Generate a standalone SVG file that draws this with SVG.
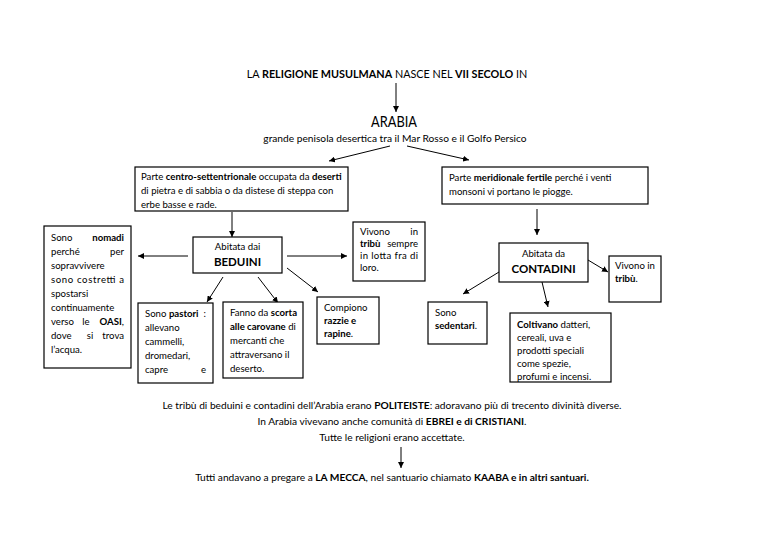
<svg xmlns="http://www.w3.org/2000/svg" width="768" height="543" viewBox="0 0 768 543">
<style>
text{font-family:Lato,"Open Sans","DejaVu Sans",sans-serif;fill:#000}
.t{font-size:9.6px}
.b{font-weight:bold}
.h{font-size:11.5px;font-weight:bold}
.f{font-size:10.2px}
.box{fill:#fff;stroke:#000;stroke-width:1.2}
.ln{stroke:#000;stroke-width:1;fill:none;marker-end:url(#ah)}
.mid{text-anchor:middle}
.end{text-anchor:end}
</style>
<defs>
<marker id="ah" viewBox="0 0 10 10" refX="10" refY="5" markerWidth="6" markerHeight="6" orient="auto" markerUnits="userSpaceOnUse">
<path d="M0,0 L10,5 L0,10 z" fill="#000"/>
</marker>
</defs>
<rect width="768" height="543" fill="#fff"/>

<g id="title">
<text x="387" y="78" class="mid" font-size="10.8">LA <tspan class="b">RELIGIONE MUSULMANA</tspan> NASCE NEL <tspan class="b">VII SECOLO</tspan> IN</text>
</g>
<g id="arabia">
<text x="394" y="127" class="mid" font-size="14.5" textLength="46" lengthAdjust="spacingAndGlyphs">ARABIA</text>
<text x="395" y="142" class="mid f">grande penisola desertica tra il Mar Rosso e il Golfo Persico</text>
</g>

<g id="connectors">
<line class="ln" x1="396" y1="83" x2="396" y2="112"/>
<line class="ln" x1="390" y1="146" x2="329" y2="161"/>
<line class="ln" x1="407" y1="146" x2="469" y2="160"/>
<line class="ln" x1="232" y1="212" x2="232" y2="237"/>
<line class="ln" x1="537" y1="209" x2="537" y2="235"/>
<line class="ln" x1="188" y1="256" x2="138" y2="256"/>
<line class="ln" x1="287" y1="256" x2="347" y2="256"/>
<line class="ln" x1="287" y1="268" x2="318" y2="292"/>
<line class="ln" x1="223" y1="277" x2="207" y2="302"/>
<line class="ln" x1="258" y1="277" x2="278" y2="303"/>
<line class="ln" x1="499" y1="272" x2="463" y2="294"/>
<line class="ln" x1="542" y1="282" x2="548" y2="307"/>
<line class="ln" x1="588" y1="260" x2="608" y2="272"/>
<line class="ln" x1="401" y1="447" x2="401" y2="468"/>
</g>

<g id="centro">
<rect class="box" x="135" y="167" width="213" height="44"/>
<text class="t" x="141" y="180">Parte <tspan class="b">centro-settentrionale</tspan> occupata da <tspan class="b">deserti</tspan></text>
<text class="t" x="141" y="194">di pietra e di sabbia o da distese di steppa con</text>
<text class="t" x="141" y="208">erbe basse e rade.</text>
</g>

<g id="meridionale">
<rect class="box" x="442" y="167" width="206" height="37"/>
<text class="t" x="449" y="181">Parte <tspan class="b">meridionale fertile</tspan> perché i venti</text>
<text class="t" x="449" y="195">monsoni vi portano le piogge.</text>
</g>

<g id="beduini">
<rect class="box" x="193" y="237" width="89" height="36"/>
<text class="t mid" x="237.5" y="250">Abitata dai</text>
<text class="h mid" x="237.5" y="266">BEDUINI</text>
</g>

<g id="contadini">
<rect class="box" x="499" y="243" width="89" height="39"/>
<text class="t mid" x="543.5" y="257">Abitata da</text>
<text class="h mid" x="543.5" y="273">CONTADINI</text>
</g>

<g id="nomadi">
<rect class="box" x="44" y="226" width="87" height="142"/>
<text class="t" x="51" y="241">Sono</text><text class="t b end" x="124" y="241">nomadi</text>
<text class="t" x="51" y="255">perché</text><text class="t end" x="124" y="255">per</text>
<text class="t" x="51" y="269">sopravvivere</text>
<text class="t" x="51" y="283" textLength="73" lengthAdjust="spacing">sono costretti a</text>
<text class="t" x="51" y="297">spostarsi</text>
<text class="t" x="51" y="311">continuamente</text>
<text class="t" x="51" y="325">verso</text><text class="t mid" x="86" y="325">le</text><text class="t end" x="124" y="325"><tspan class="b">OASI</tspan>,</text>
<text class="t" x="51" y="339">dove</text><text class="t mid" x="90" y="339">si</text><text class="t end" x="124" y="339">trova</text>
<text class="t" x="51" y="353">l’acqua.</text>
</g>

<g id="pastori">
<rect class="box" x="138" y="303" width="75" height="80"/>
<text class="t" x="145" y="317">Sono <tspan class="b">pastori</tspan></text><text class="t end" x="206" y="317">:</text>
<text class="t" x="145" y="331">allevano</text>
<text class="t" x="145" y="345">cammelli,</text>
<text class="t" x="145" y="359">dromedari,</text>
<text class="t" x="145" y="373">capre</text><text class="t end" x="206" y="373">e</text>
</g>

<g id="scorta">
<rect class="box" x="223" y="302" width="80" height="76"/>
<text class="t" x="230" y="316">Fanno da <tspan class="b">scorta</tspan></text>
<text class="t" x="230" y="330"><tspan class="b">alle carovane</tspan> di</text>
<text class="t" x="230" y="344">mercanti che</text>
<text class="t" x="230" y="358">attraversano il</text>
<text class="t" x="230" y="372">deserto.</text>
</g>

<g id="razzie">
<rect class="box" x="317" y="297" width="62" height="47"/>
<text class="t" x="324" y="311">Compiono</text>
<text class="t b" x="324" y="324">razzie e</text>
<text class="t" x="324" y="337"><tspan class="b">rapine</tspan>.</text>
</g>

<g id="lotta">
<rect class="box" x="353" y="222" width="72" height="59"/>
<text class="t" x="360" y="235">Vivono</text><text class="t end" x="418" y="235">in</text>
<text class="t b" x="360" y="247">tribù</text><text class="t end" x="418" y="247">sempre</text>
<text class="t" x="360" y="259" textLength="58" lengthAdjust="spacing">in lotta fra di</text>
<text class="t" x="360" y="271">loro.</text>
</g>

<g id="sedentari">
<rect class="box" x="428" y="302" width="59" height="42"/>
<text class="t" x="435" y="316">Sono</text>
<text class="t" x="435" y="329"><tspan class="b">sedentari</tspan>.</text>
</g>

<g id="coltivano">
<rect class="box" x="510" y="313" width="101" height="69"/>
<text class="t" x="517" y="328"><tspan class="b">Coltivano</tspan> datteri,</text>
<text class="t" x="517" y="341">cereali, uva e</text>
<text class="t" x="517" y="354">prodotti speciali</text>
<text class="t" x="517" y="367">come spezie,</text>
<text class="t" x="517" y="380">profumi e incensi.</text>
</g>

<g id="tribu">
<rect class="box" x="609" y="256" width="52" height="46"/>
<text class="t" x="615" y="269">Vivono in</text>
<text class="t" x="615" y="282"><tspan class="b">tribù</tspan>.</text>
</g>

<g id="bottom">
<text x="392" y="409" class="mid f">Le tribù di beduini e contadini dell’Arabia erano <tspan class="b">POLITEISTE</tspan>: adoravano più di trecento divinità diverse.</text>
<text x="392" y="425" class="mid f">In Arabia vivevano anche comunità di <tspan class="b">EBREI e di CRISTIANI</tspan>.</text>
<text x="392" y="441" class="mid f">Tutte le religioni erano accettate.</text>
<text x="392" y="481" class="mid f">Tutti andavano a pregare a <tspan class="b">LA MECCA</tspan>, nel santuario chiamato <tspan class="b">KAABA e in altri santuari.</tspan></text>
</g>
</svg>
